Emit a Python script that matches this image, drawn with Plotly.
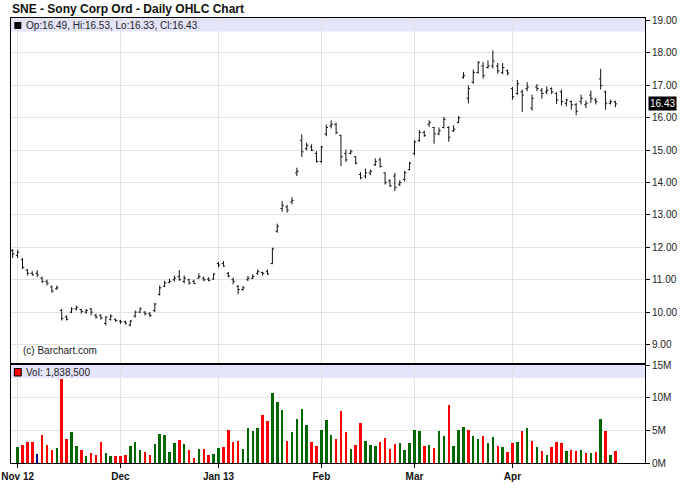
import plotly.graph_objects as go

# ---------------- data ----------------
# trading-day index (-1 = Oct 31 2012, 0 = Nov 1 2012 ... 122 = Apr 30 2013)
day_index = list(range(-1, 123))

opens = [11.90, 11.75, 11.62, 11.30, 11.20, 11.20, 11.05, 10.95, 10.78, 10.72, 10.05,
         9.85, 10.00, 10.10, 10.08, 10.00, 10.10, 9.90, 9.90, 9.65, 9.78, 9.78,
         9.72, 9.70, 9.60, 9.88, 10.00, 10.00, 9.95, 10.05, 10.55, 10.80, 10.92,
         11.00, 11.10, 10.95, 11.00, 10.95, 11.05, 11.05, 11.02, 11.02,
         11.50, 11.50, 11.20, 11.00, 10.80, 10.70, 11.00, 11.05, 11.20, 11.22, 11.25,
         11.50, 12.50, 13.20, 13.25, 13.40, 14.30, 15.30, 15.05, 15.10, 14.90,
         14.65, 15.50, 15.75, 15.80, 15.45, 14.90, 14.90, 14.80, 14.25, 14.20, 14.30,
         14.55, 14.70, 14.30, 14.05, 14.20, 13.95, 14.10, 14.40,
         14.90, 15.30, 15.55, 15.80, 15.70, 15.50, 15.70, 15.70, 15.60, 15.85, 17.25,
         16.60, 17.10, 17.40, 17.60, 17.55, 17.60, 17.60, 17.40, 17.45,
         16.90, 16.75, 16.80, 16.90, 16.30, 16.95, 16.85, 16.80, 16.90, 16.75, 16.80,
         16.45, 16.50, 16.40, 16.50, 16.40, 16.70, 16.55, 17.20, 16.80, 16.45, 16.49]

highs = [11.95, 11.92, 11.67, 11.33, 11.26, 11.30, 11.10, 11.00, 10.82, 10.82, 10.10,
         9.90, 10.15, 10.20, 10.10, 10.10, 10.13, 9.95, 9.93, 9.87, 9.93, 9.80,
         9.76, 9.74, 9.76, 10.05, 10.15, 10.03, 10.00, 10.28, 10.82, 10.97, 11.03,
         11.13, 11.30, 11.13, 11.03, 11.00, 11.20, 11.10, 11.08, 11.20,
         11.55, 11.58, 11.24, 11.07, 10.83, 10.81, 11.12, 11.17, 11.32, 11.25, 11.32,
         11.99, 12.73, 13.43, 13.31, 13.55, 14.46, 15.49, 15.23, 15.18, 14.97,
         15.13, 15.79, 15.92, 15.85, 15.47, 15.02, 15.02, 14.82, 14.32, 14.43, 14.40,
         14.75, 14.77, 14.32, 14.10, 14.30, 14.07, 14.36, 14.64,
         15.31, 15.62, 15.60, 15.92, 15.72, 15.70, 16.03, 15.74, 15.77, 16.05, 17.41,
         17.00, 17.49, 17.75, 17.72, 17.77, 18.08, 17.69, 17.69, 17.49,
         16.95, 17.17, 16.87, 17.10, 16.71, 17.04, 16.92, 16.97, 16.94, 16.79, 16.87,
         16.59, 16.53, 16.46, 16.71, 16.53, 16.84, 16.61, 17.51, 16.84, 16.56, 16.53]

lows = [11.67, 11.67, 11.33, 11.13, 11.13, 11.08, 10.90, 10.82, 10.60, 10.69, 9.74,
        9.74, 9.97, 10.05, 9.95, 9.95, 9.90, 9.80, 9.77, 9.59, 9.74, 9.70,
        9.64, 9.62, 9.56, 9.83, 9.97, 9.90, 9.85, 10.00, 10.51, 10.77, 10.89,
        10.95, 10.97, 10.89, 10.85, 10.87, 11.03, 10.95, 10.95, 11.00,
        11.38, 11.40, 11.07, 10.86, 10.55, 10.66, 10.96, 11.02, 11.15, 11.12, 11.15,
        11.48, 12.45, 13.10, 13.07, 13.33, 14.20, 14.79, 14.99, 14.97, 14.61,
        14.61, 15.43, 15.67, 15.49, 14.51, 14.64, 14.87, 14.56, 14.10, 14.13, 14.23,
        14.51, 14.46, 13.94, 13.86, 13.74, 13.89, 14.03, 14.38,
        14.84, 15.26, 15.41, 15.72, 15.20, 15.46, 15.67, 15.26, 15.56, 15.84, 17.21,
        16.44, 17.05, 17.36, 17.21, 17.52, 17.52, 17.36, 17.34, 17.31,
        16.56, 16.71, 16.18, 16.82, 16.22, 16.82, 16.59, 16.73, 16.73, 16.43, 16.38,
        16.35, 16.25, 16.08, 16.41, 16.30, 16.46, 16.41, 16.87, 16.25, 16.41, 16.33]

closes = [11.80, 11.85, 11.38, 11.20, 11.15, 11.15, 10.95, 10.90, 10.65, 10.75, 9.80,
          9.78, 10.10, 10.15, 10.02, 10.05, 10.00, 9.85, 9.82, 9.85, 9.88, 9.74,
          9.70, 9.66, 9.72, 10.00, 10.10, 9.95, 9.90, 10.25, 10.75, 10.90, 10.95,
          11.05, 11.00, 11.05, 10.90, 10.88, 11.10, 11.00, 10.98, 11.18,
          11.45, 11.42, 11.12, 10.95, 10.70, 10.75, 11.05, 11.10, 11.25, 11.20, 11.18,
          11.95, 12.65, 13.30, 13.15, 13.45, 14.35, 14.95, 15.15, 15.00, 14.65,
          15.10, 15.70, 15.80, 15.55, 14.80, 14.70, 14.95, 14.60, 14.15, 14.30, 14.35,
          14.65, 14.50, 14.00, 13.90, 13.85, 14.00, 14.30, 14.60,
          15.25, 15.55, 15.45, 15.85, 15.50, 15.60, 15.95, 15.40, 15.65, 16.00, 17.30,
          16.90, 17.40, 17.70, 17.30, 17.60, 17.75, 17.45, 17.55, 17.38,
          16.65, 17.05, 16.70, 16.95, 16.60, 16.90, 16.75, 16.85, 16.80, 16.55, 16.50,
          16.55, 16.40, 16.20, 16.60, 16.45, 16.60, 16.50, 17.00, 16.45, 16.50, 16.43]

# volume in millions of shares (no volume bar drawn for Oct 31)
volumes_m = [None,
             2.5, 2.8, 3.2, 3.2, 1.4, 4.3, 2.8, 2.0, 2.3, 12.8, 3.7, 4.7, 2.6, 2.0, 1.1, 1.6, 1.3, 3.2, 1.6, 1.1, 1.0,
             1.1, 1.3, 2.6, 3.2, 2.0, 1.7, 1.3, 2.9, 4.4, 4.3, 1.7, 3.1, 3.5, 2.9, 2.0, 0.7, 2.2, 2.2, 1.3, 1.4,
             2.3, 2.5, 5.0, 3.2, 3.4, 2.2, 5.4, 4.9, 5.4, 7.3, 6.4, 10.7, 9.3, 8.1, 3.4, 4.7, 6.7, 8.3, 5.8, 3.2, 2.6,
             5.0, 6.6, 4.3, 3.7, 7.9, 4.7, 2.2, 2.8, 6.1, 3.4, 2.8, 2.6, 3.2, 3.8, 2.2, 2.9, 3.1, 2.0, 3.1,
             5.0, 4.9, 2.6, 2.8, 2.3, 4.9, 4.1, 8.9, 2.6, 5.0, 5.5, 5.0, 4.1, 3.7, 4.1, 3.1, 4.0, 2.6, 2.5, 1.7,
             3.1, 3.2, 4.9, 5.4, 3.4, 2.5, 1.9, 1.3, 2.5, 3.2, 3.1, 1.9, 2.0, 1.9, 2.0, 1.6, 1.6, 1.7, 6.7, 4.9, 1.3, 1.8385]

month_positions = [0, 21, 41, 62, 81, 101]
month_labels = ["Nov 12", "Dec", "Jan 13", "Feb", "Mar", "Apr"]
price_ticks = [9, 10, 11, 12, 13, 14, 15, 16, 17, 18, 19]
vol_ticks = [0, 5, 10, 15]
vol_tick_labels = ["0M", "5M", "10M", "15M"]

title_text = "SNE - Sony Corp Ord - Daily OHLC Chart"
last_bar_text = "Op:16.49, Hi:16.53, Lo:16.33, Cl:16.43"
last_vol_text = "Vol: 1,838,500"
last_price = 16.43
credit_text = "(c) Barchart.com"

# ---------------- styling / layout ----------------
W, H = 688, 503
FONT = "Liberation Sans, Arial, Helvetica, sans-serif"
GRID = "#e2e2e2"
BAND = "#e4e4fa"

# volume colours from close-to-close change
vol_colors = []
for k in range(len(closes)):
    if k == 0:
        vol_colors.append("#006600")
    elif closes[k] > closes[k - 1]:
        vol_colors.append("#006600")
    elif closes[k] < closes[k - 1]:
        vol_colors.append("#ff0000")
    else:
        vol_colors.append("#000080")

fig = go.Figure()

fig.add_trace(go.Ohlc(
    x=day_index, open=opens, high=highs, low=lows, close=closes,
    increasing=dict(line=dict(color="#111111", width=1)),
    decreasing=dict(line=dict(color="#111111", width=1)),
    tickwidth=0.35, xaxis="x", yaxis="y", showlegend=False, hoverinfo="skip"))

fig.add_trace(go.Bar(
    x=day_index, y=volumes_m, marker=dict(color=vol_colors, line=dict(width=0)),
    width=0.5, xaxis="x2", yaxis="y2", showlegend=False, hoverinfo="skip"))

# pixel geometry
left_px, right_px = 10.7, 645.0
top_px, bottom_px = 18.0, 463.0
price_bottom_px = 363.0
vol_top_px = 365.0
plot_h = bottom_px - top_px

x0 = 17.3
step = 4.902
x_range = [(left_px - x0) / step, (right_px - x0) / step]

price_dom = [(bottom_px - price_bottom_px) / plot_h, 1.0]
vol_dom = [0.0, (bottom_px - vol_top_px) / plot_h]

axis_common = dict(showline=True, linecolor="black", linewidth=1, mirror=True,
                   gridcolor=GRID, gridwidth=1, zeroline=False)

fig.update_layout(
    width=W, height=H,
    margin=dict(l=left_px, r=W - right_px, t=top_px, b=H - bottom_px, autoexpand=False),
    paper_bgcolor="white", plot_bgcolor="white",
    font=dict(family=FONT, size=10, color="#222222"),
    bargap=0,
    xaxis=dict(domain=[0, 1], anchor="y", range=x_range, tickvals=month_positions,
               showticklabels=False, ticks="", rangeslider=dict(visible=False),
               **axis_common),
    xaxis2=dict(domain=[0, 1], anchor="y2", range=x_range, matches="x",
                tickvals=month_positions, ticktext=month_labels,
                ticks="outside", ticklen=4, tickcolor="black",
                tickfont=dict(family=FONT, size=10, color="#111111", weight="bold"),
                **axis_common),
    yaxis=dict(domain=price_dom, anchor="x", side="right",
               range=[8.43, 19.08], tickvals=price_ticks, tickformat=".2f",
               ticks="outside", ticklen=4, tickcolor="black",
               tickfont=dict(family=FONT, size=10, color="#222222"),
               **axis_common),
    yaxis2=dict(domain=vol_dom, anchor="x2", side="right",
                range=[0, 15.0], tickvals=vol_ticks, ticktext=vol_tick_labels,
                ticks="outside", ticklen=4, tickcolor="black",
                tickfont=dict(family=FONT, size=10, color="#222222"),
                **axis_common),
)

price_h = price_bottom_px - top_px
vol_h = bottom_px - vol_top_px
pw = right_px - left_px

shapes = [
    # header bands
    dict(type="rect", xref="x domain", yref="y domain", x0=0, x1=1,
         y0=1 - 13.5 / price_h, y1=1, fillcolor=BAND, line=dict(width=0), layer="below"),
    dict(type="rect", xref="x2 domain", yref="y2 domain", x0=0, x1=1,
         y0=1 - 13 / vol_h, y1=1, fillcolor=BAND, line=dict(width=0), layer="below"),
    # legend squares
    dict(type="rect", xref="x domain", yref="y domain",
         x0=(14 - left_px) / pw, x1=(21 - left_px) / pw,
         y0=1 - (29 - top_px) / price_h, y1=1 - (22 - top_px) / price_h,
         fillcolor="black", line=dict(width=0)),
    dict(type="rect", xref="x2 domain", yref="y2 domain",
         x0=(14 - left_px) / pw, x1=(21 - left_px) / pw,
         y0=1 - (376 - vol_top_px) / vol_h, y1=1 - (368.5 - vol_top_px) / vol_h,
         fillcolor="#ff0000", line=dict(width=1, color="black")),
]
fig.update_layout(shapes=shapes)

annotations = [
    dict(text=title_text, xref="paper", yref="paper", x=(9.5 - left_px) / pw,
         y=(bottom_px - 9.5) / plot_h, xanchor="left", yanchor="middle", showarrow=False,
         font=dict(family=FONT, size=12, color="#111111", weight="bold")),
    dict(text=last_bar_text, xref="x domain", yref="y domain", x=(23.5 - left_px) / pw,
         y=1 - (25.5 - top_px) / price_h, xanchor="left", yanchor="middle", showarrow=False,
         font=dict(family=FONT, size=10, color="#222222")),
    dict(text=last_vol_text, xref="x2 domain", yref="y2 domain", x=(23.5 - left_px) / pw,
         y=1 - (372.5 - vol_top_px) / vol_h, xanchor="left", yanchor="middle", showarrow=False,
         font=dict(family=FONT, size=10, color="#222222")),
    dict(text=credit_text, xref="x domain", yref="y domain", x=(21 - left_px) / pw,
         y=1 - (350 - top_px) / price_h, xanchor="left", yanchor="middle", showarrow=False,
         font=dict(family=FONT, size=10, color="#222222")),
    dict(text=f"{last_price:.2f}", xref="x domain", yref="y", x=1, y=last_price,
         xanchor="left", yanchor="middle", xshift=3, showarrow=False,
         bgcolor="black", borderpad=1,
         font=dict(family=FONT, size=10, color="white")),
]
fig.update_layout(annotations=annotations)

# remove the browser's default 8px page margin so the figure sits at (0, 0)
fig.write_html("out.html",
               config={"displayModeBar": False, "staticPlot": True},
               post_script="document.body.style.margin='0';document.body.style.padding='0';")
